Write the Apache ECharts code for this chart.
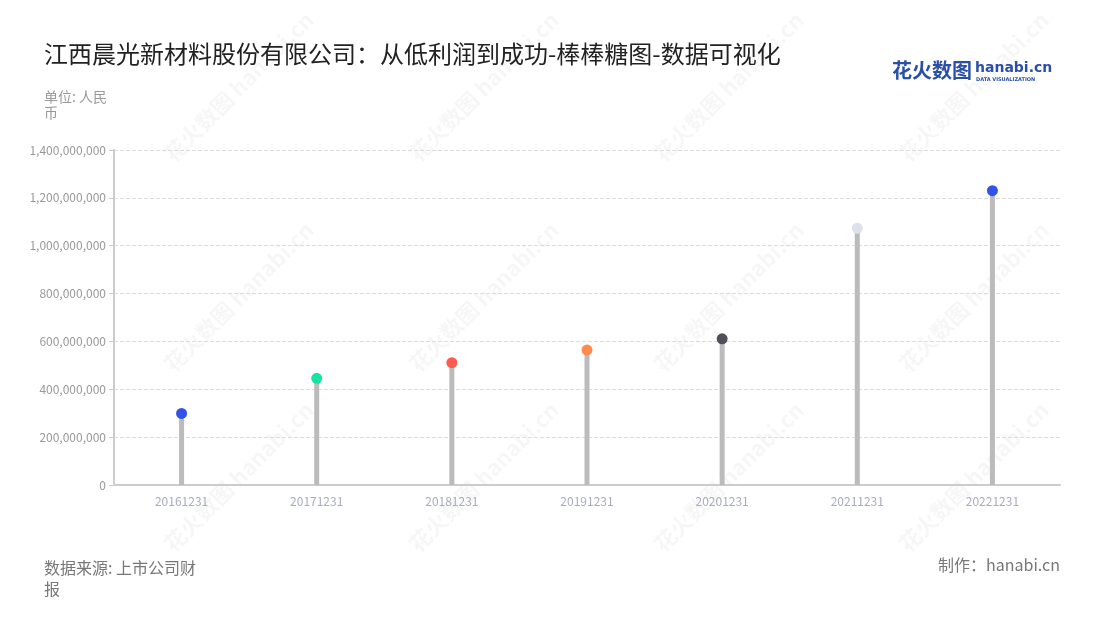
<!DOCTYPE html>
<html><head><meta charset="utf-8">
<script src="https://cdn.jsdelivr.net/npm/echarts@6/dist/echarts.min.js"></script>
<style>html,body{margin:0;padding:0;background:#fff}#c{width:1100px;height:620px}</style>
</head><body><div id="c"></div>
<script>
const categories = ['20161231','20171231','20181231','20191231','20201231','20211231','20221231'];
const values = [299000000, 446000000, 511000000, 564000000, 611000000, 1073000000, 1230000000];
const dotColors = ['#3352ea','#19e3a0','#ff5a4e','#ff8c4f','#50505a','#dde1ea','#3352ea'];
const yTicks = [0, 200000000, 400000000, 600000000, 800000000, 1000000000, 1200000000, 1400000000];

const chart = echarts.init(document.getElementById('c'));
const fontFam = '"Noto Sans CJK SC","Noto Sans",sans-serif';
const wm = [];
const wmX = [160, 405, 650, 895];
const wmY = [150, 360, 540];
wmX.forEach(x => wmY.forEach(y => {
  wm.push({type:'text', x:x, y:y, rotation: Math.PI/4, z:-1, silent:true,
    style:{text:'花火数图 hanabi.cn', fill:'rgba(0,0,0,0.035)', font:'bold 22px '+fontFam}});
}));
chart.setOption({
  backgroundColor:'#fff',
  textStyle:{fontFamily:fontFam},
  title:[
    {text:'江西晨光新材料股份有限公司：从低利润到成功-棒棒糖图-数据可视化', left:39, top:37,
     textStyle:{fontSize:24, fontWeight:'normal', color:'#222', fontFamily:fontFam}},
    {text:'单位: 人民\n币', left:39, top:84,
     textStyle:{fontSize:14, fontWeight:'normal', color:'#999', lineHeight:16, fontFamily:fontFam}},
    {text:'数据来源: 上市公司财\n报', left:39, top:552,
     textStyle:{fontSize:16, fontWeight:'normal', color:'#777', lineHeight:21, fontFamily:fontFam}},
    {text:'制作：hanabi.cn', right:35, top:552,
     textStyle:{fontSize:16, fontWeight:'normal', color:'#777', fontFamily:fontFam}}
  ],
  graphic: wm.concat([
    {type:'text', left:892, top:60, style:{text:'花火数图', fill:'#2a4fa8', font:'bold 20px '+fontFam}},
    {type:'text', left:975, top:61, style:{text:'hanabi.cn', fill:'#2a4fa8', font:'bold 14px "DejaVu Sans",sans-serif'}},
    {type:'text', left:976, top:77, style:{text:'DATA VISUALIZATION', fill:'#2a4fa8', font:'bold 5px "DejaVu Sans",sans-serif'}}
  ]),
  grid:{left:114, right:40, top:150, bottom:135},
  xAxis:{type:'category', data:categories,
    axisLine:{lineStyle:{color:'#ccc', width:2}},
    axisTick:{alignWithLabel:true, lineStyle:{color:'#ccc'}},
    axisLabel:{color:'#a8acbc', fontSize:12, margin:10}},
  yAxis:{type:'value', min:0, max:1400000000, interval:200000000,
    axisLine:{show:true, lineStyle:{color:'#ccc', width:2}},
    axisTick:{show:true, lineStyle:{color:'#ccc'}},
    axisLabel:{color:'#999', fontSize:12, formatter:v=>v.toLocaleString('en-US')},
    splitLine:{lineStyle:{color:'#ddd', type:'dashed'}}},
  series:[
    {type:'bar', data:values, barWidth:5, itemStyle:{color:'#bbbbbb'}, silent:true},
    {type:'scatter', data:values.map((v,i)=>({value:v, itemStyle:{color:dotColors[i], opacity:1}})),
     symbolSize:11, z:5}
  ]
});
</script></body></html>
